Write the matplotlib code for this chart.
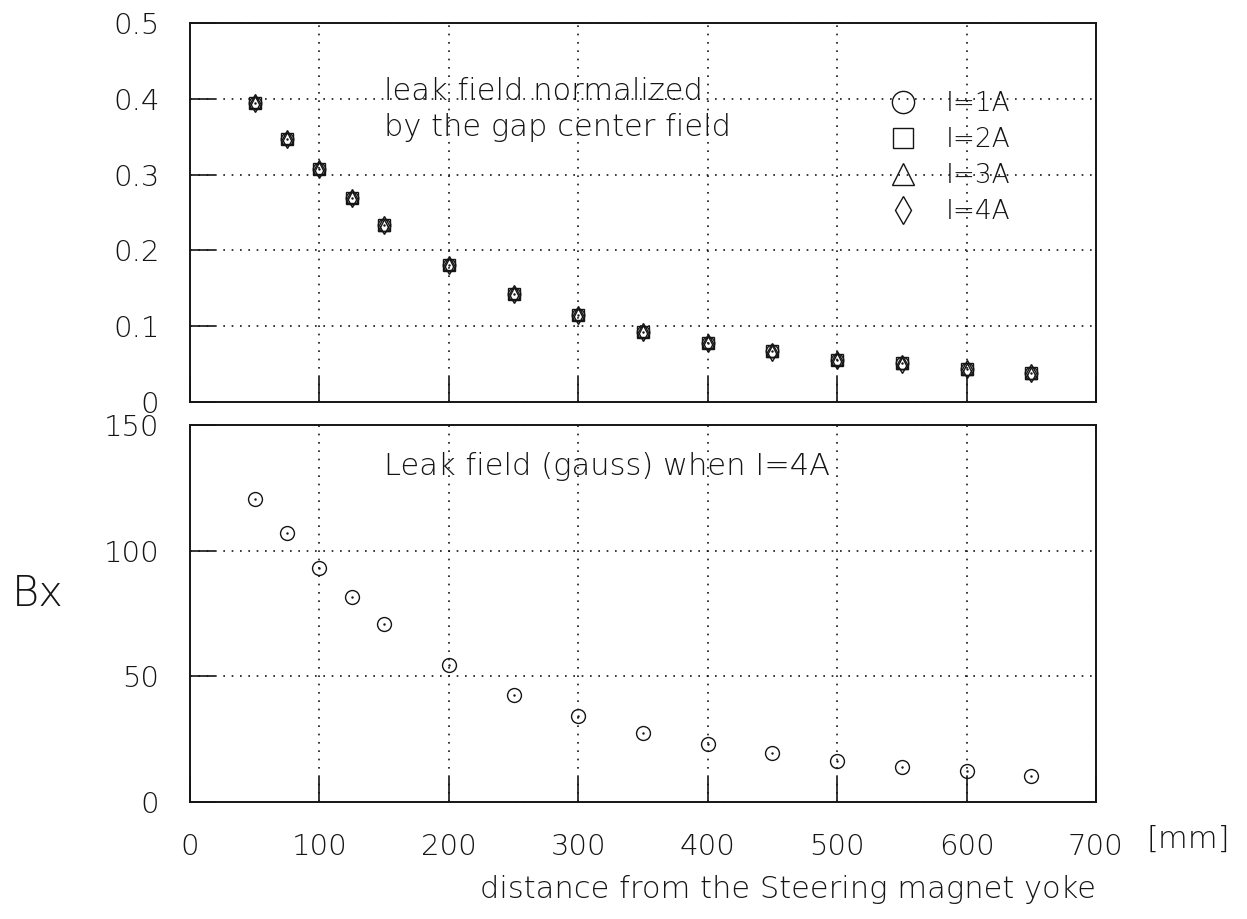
import matplotlib
matplotlib.use("Agg")
import matplotlib.pyplot as plt
from matplotlib.lines import Line2D
from matplotlib import font_manager

# ---- data ----
distance = [50, 75, 100, 125, 150, 200, 250, 300, 350, 400, 450, 500, 550, 600, 650]
norm_1A = [0.395, 0.347, 0.308, 0.269, 0.233, 0.181, 0.143, 0.115, 0.093, 0.078, 0.067, 0.056, 0.051, 0.043, 0.038]
norm_2A = [0.395, 0.347, 0.308, 0.269, 0.233, 0.181, 0.143, 0.115, 0.093, 0.078, 0.067, 0.056, 0.051, 0.043, 0.038]
norm_3A = [0.396, 0.348, 0.309, 0.270, 0.234, 0.182, 0.144, 0.116, 0.094, 0.079, 0.067, 0.057, 0.051, 0.044, 0.038]
norm_4A = [0.395, 0.347, 0.308, 0.269, 0.233, 0.181, 0.143, 0.115, 0.093, 0.078, 0.066, 0.056, 0.050, 0.043, 0.038]
gauss_4A = [120.6, 106.9, 93.2, 81.6, 70.7, 54.6, 42.7, 34.4, 27.6, 23.0, 19.6, 16.5, 14.1, 12.2, 10.4]

series_labels = ["I=1A", "I=2A", "I=3A", "I=4A"]
x_ticks = [0, 100, 200, 300, 400, 500, 600, 700]
top_yticks = [0, 0.1, 0.2, 0.3, 0.4, 0.5]
top_yticklabels = ["0", "0.1", "0.2", "0.3", "0.4", "0.5"]
bot_yticks = [0, 50, 100, 150]

INK = "#151515"
light = any(f.name == "DejaVu Sans" and f.weight in (200, "extra light", "light")
            for f in font_manager.fontManager.ttflist)
plt.rcParams["font.family"] = ["DejaVu Sans"]
plt.rcParams["font.weight"] = "light" if light else "normal"

W, H = 1247, 919
fig = plt.figure(figsize=(W / 100, H / 100), dpi=100)

def ax_rect(l, t, r, b):
    return [l / W, 1 - b / H, (r - l) / W, (b - t) / H]

ax1 = fig.add_axes(ax_rect(190, 23, 1096, 402))
ax2 = fig.add_axes(ax_rect(190, 425, 1096, 802))

for ax in (ax1, ax2):
    ax.set_xlim(0, 700)
    ax.set_xticks(x_ticks)
    for s in ax.spines.values():
        s.set_linewidth(1.4)
        s.set_color(INK)
    ax.tick_params(direction="in", length=18, width=1.2, color=INK,
                   top=False, right=False, labelsize=21, pad=22,
                   labelcolor=INK)
    ax.grid(True, linestyle=(0, (1, 4)), color=INK, linewidth=1.2)

# ---- top panel ----
ax1.set_ylim(0, 0.5)
ax1.set_yticks(top_yticks)
ax1.set_yticklabels(top_yticklabels)
ax1.tick_params(axis="x", labelbottom=False)

mk = dict(linestyle="none", markerfacecolor="none", markeredgecolor=INK,
          markeredgewidth=1.0)
ax1.plot(distance, norm_1A, marker="o", markersize=9, **mk)
ax1.plot(distance, norm_2A, marker="s", markersize=8, **mk)
ax1.plot(distance, norm_3A, marker="^", markersize=9, **mk)
ax1.plot(distance, norm_4A, marker="d", markersize=9, **mk)
ax1.plot(distance, norm_1A, marker=".", markersize=1.5, linestyle="none",
         color=INK)

ax1.text(0.214, 0.772, "leak field normalized\nby the gap center field",
         transform=ax1.transAxes, fontsize=22, color=INK,
         ha="left", va="center", linespacing=1.3)

handles = [
    Line2D([], [], marker="o", markersize=16, **mk),
    Line2D([], [], marker="s", markersize=15, **mk),
    Line2D([], [], marker="^", markersize=16, **mk),
    Line2D([], [], marker="d", markersize=14, **mk),
]
leg = ax1.legend(handles, series_labels, loc="upper left",
                 bbox_to_anchor=(0.772, 0.82), frameon=False, fontsize=19,
                 handlelength=1.0, handletextpad=1.15, labelspacing=0.42,
                 borderaxespad=0, borderpad=0)
for t in leg.get_texts():
    t.set_color(INK)

# ---- bottom panel ----
ax2.set_ylim(0, 150)
ax2.set_yticks(bot_yticks)
ax2.plot(distance, gauss_4A, marker="o", markersize=10, **mk)
ax2.plot(distance, gauss_4A, marker=".", markersize=1.5, linestyle="none",
         color=INK)

ax2.text(0.214, 0.889, "Leak field (gauss) when I=4A", transform=ax2.transAxes,
         fontsize=22, color=INK, ha="left", va="center")

ax2.text(1.0, -0.233, "distance from the Steering magnet yoke",
         transform=ax2.transAxes, fontsize=22, color=INK,
         ha="right", va="center")
ax2.text(1.056, -0.1, "[mm]", transform=ax2.transAxes, fontsize=22,
         color=INK, ha="left", va="center")

fig.text(38 / W, 1 - 593 / H, "Bx", fontsize=30, color=INK,
         ha="center", va="center")

fig.savefig("out.png", dpi=100, facecolor="white")
